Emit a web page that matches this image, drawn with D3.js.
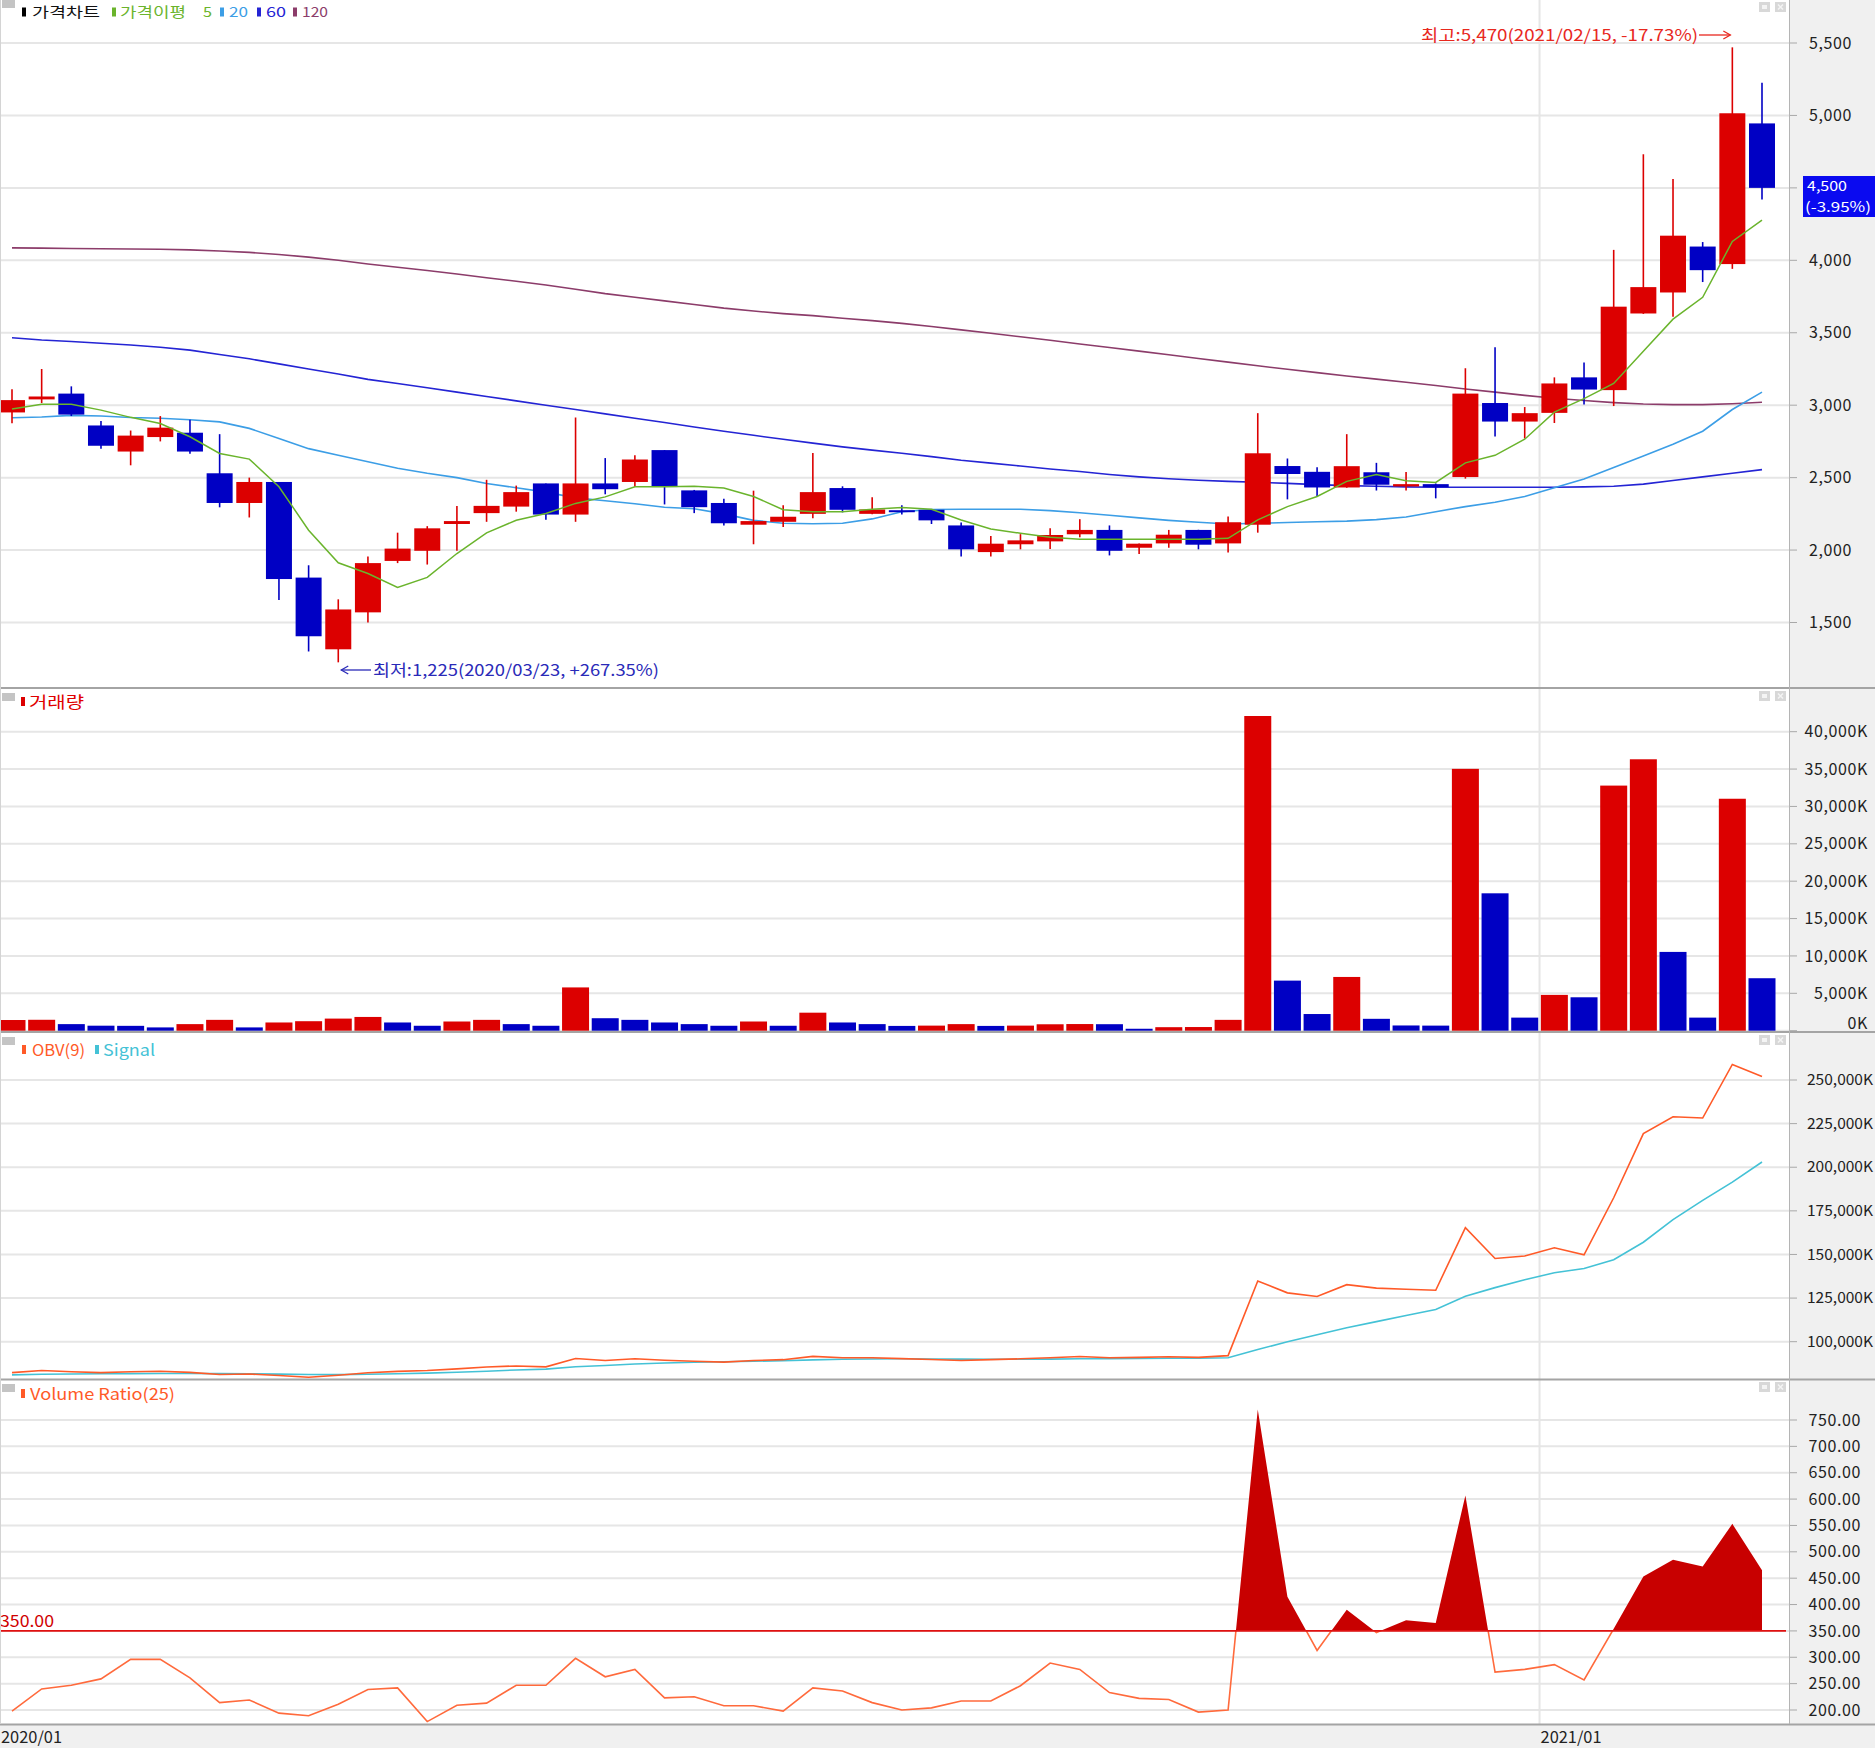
<!DOCTYPE html>
<html><head><meta charset="utf-8">
<script src="https://cdn.jsdelivr.net/npm/d3@7/dist/d3.min.js"></script>
<style>
body{margin:0;background:#fff}
text{font-family:"Noto Sans CJK KR","Noto Sans",sans-serif}
</style>
</head><body>
<svg id="c" width="1875" height="1748"></svg>
<script>
// ---------- DATA ----------
const weeks = ["2020/01/06","2020/01/13","2020/01/20","2020/01/27","2020/02/03","2020/02/10","2020/02/17","2020/02/24",
"2020/03/02","2020/03/09","2020/03/16","2020/03/23","2020/03/30","2020/04/06","2020/04/13","2020/04/20","2020/04/27",
"2020/05/04","2020/05/11","2020/05/18","2020/05/25","2020/06/01","2020/06/08","2020/06/15","2020/06/22","2020/06/29",
"2020/07/06","2020/07/13","2020/07/20","2020/07/27","2020/08/03","2020/08/10","2020/08/17","2020/08/24","2020/08/31",
"2020/09/07","2020/09/14","2020/09/21","2020/09/28","2020/10/05","2020/10/12","2020/10/19","2020/10/26","2020/11/02",
"2020/11/09","2020/11/16","2020/11/23","2020/11/30","2020/12/07","2020/12/14","2020/12/21","2020/12/28","2021/01/04",
"2021/01/11","2021/01/18","2021/01/25","2021/02/01","2021/02/08","2021/02/15","2021/02/22"];

const openP  = [2950,3040,3080,2860,2680,2780,2810,2530,2325,2470,1810,1315,1570,1925,1995,2180,2255,2300,2460,2245,
2460,2470,2690,2412,2325,2175,2195,2250,2428,2250,2275,2278,2170,1986,2040,2060,2109,2139,2016,2046,
2139,2046,2175,2580,2540,2432,2537,2439,2455,2504,3015,2887,2947,3192,3104,3633,3778,4095,3974,4945];
const highP  = [3110,3250,3130,2890,2825,2925,2900,2800,2500,2470,1895,1660,1955,2120,2165,2305,2485,2445,2460,2915,
2635,2655,2690,2415,2355,2410,2310,2670,2440,2365,2310,2280,2190,2097,2110,2150,2213,2170,2046,2139,
2140,2231,2945,2632,2572,2800,2602,2539,2460,3255,3400,2987,3192,3295,4072,4732,4562,4126,5470,5225];
const lowP   = [2875,3015,2925,2700,2585,2750,2665,2295,2225,1655,1300,1225,1500,1910,1900,1995,2195,2265,2210,2195,
2385,2435,2315,2255,2170,2040,2160,2220,2260,2248,2245,2180,1955,1955,2005,2007,2088,1963,1972,2016,
2005,1984,2120,2350,2374,2430,2411,2411,2357,2493,2784,2770,2877,3004,2994,3630,3610,3850,3941,4420];
const closeP = [3035,3060,2935,2720,2790,2845,2680,2325,2470,1800,1405,1590,1910,2010,2150,2200,2305,2400,2245,2460,
2420,2625,2435,2296,2185,2200,2230,2400,2278,2280,2265,2205,2005,2044,2067,2104,2139,1995,2044,2106,
2037,2192,2668,2525,2432,2579,2451,2455,2434,3080,2887,2945,3150,3108,3680,3815,4170,3932,5015,4500];

const ma5   = [2973,3006,3006,2966,2916,2874,2782,2667,2628,2437,2137,1912,1838,1742,1811,1976,2119,2206,2252,2322,
2367,2437,2437,2441,2428,2370,2278,2264,2264,2282,2294,2282,2208,2146,2116,2088,2074,2074,2074,2074,
2074,2081,2208,2300,2370,2474,2521,2479,2467,2602,2654,2765,2952,3045,3150,3372,3594,3745,4130,4277];
const ma20  = [2913,2918,2930,2925,2915,2910,2900,2885,2840,2770,2700,2655,2610,2565,2530,2500,2460,2430,2400,2360,
2340,2320,2295,2285,2250,2205,2185,2182,2185,2215,2265,2280,2282,2282,2282,2272,2258,2240,2222,2205,
2192,2180,2185,2190,2195,2200,2210,2228,2265,2300,2330,2370,2430,2490,2570,2650,2730,2820,2970,3090];
const ma60  = [3465,3450,3440,3428,3415,3400,3380,3350,3320,3285,3250,3215,3178,3150,3120,3090,3060,3030,3000,2970,
2940,2910,2880,2850,2820,2792,2765,2738,2712,2690,2668,2645,2620,2600,2580,2560,2542,2522,2505,2492,
2482,2474,2468,2460,2452,2445,2440,2436,2434,2434,2434,2434,2434,2436,2440,2455,2480,2505,2530,2555];
const ma120 = [4086,4084,4082,4080,4078,4076,4072,4064,4055,4040,4022,4000,3975,3952,3930,3905,3880,3855,3830,3800,
3770,3745,3720,3695,3670,3650,3632,3618,3600,3584,3565,3543,3520,3497,3472,3448,3422,3398,3373,3348,
3322,3297,3272,3248,3225,3202,3180,3158,3136,3112,3090,3068,3048,3032,3018,3008,3004,3004,3010,3020];

const volumeK = [1430,1460,880,670,650,440,880,1450,440,1100,1270,1620,1840,1100,660,1230,1450,880,660,5790,
1670,1450,1100,880,660,1230,660,2410,1100,880,640,680,880,640,680,860,890,870,260,470,
490,1450,42100,6700,2230,7190,1590,700,680,35030,18380,1750,4790,4470,32790,36310,10540,1750,31030,7020];

const obvK = [82300,83500,82800,82300,82800,83100,82400,81200,81500,80600,79600,80800,82200,83000,83500,84400,85500,86100,85600,90400,
89200,90200,89400,88800,88300,89200,89700,91600,90800,90800,90300,89800,89200,89700,90200,90800,91500,90800,91000,91400,
91000,92000,134800,128000,125900,132700,130700,130100,129500,165400,147700,149100,153800,149800,182500,219300,228900,228200,258900,252000];
const obvSignalK = [81000,81300,81500,81600,81700,81800,81800,81700,81600,81400,81200,81100,81300,81600,82000,82500,83100,83800,84300,85600,
86400,87200,87800,88200,88500,88800,89100,89600,89900,90100,90200,90100,90000,89900,89900,90000,90200,90300,90400,90500,
90600,90800,95500,100000,104000,108000,111500,115000,118500,126000,131000,135500,139500,142000,147000,157000,170000,181000,191500,203000];

const volRatio = [198,240,247,259,296,296,261,214,219,194,189,211,239,242,178,209,213,247,247,298,
263,277,223,225,208,208,198,242,236,214,200,204,217,217,246,289,277,233,222,220,
196,200,770,415,313,390,347,370,365,607,272,277,286,257,354,453,485,472,553,465];

const priceTicks = [1500,2000,2500,3000,3500,4000,4500,5000,5500];
const volTicks   = [0,5000,10000,15000,20000,25000,30000,35000,40000];
const obvTicks   = [100000,125000,150000,175000,200000,225000,250000];
const vrTicks    = [200,250,300,350,400,450,500,550,600,650,700,750];
const vrLevel    = 350;
const dateTicks  = [{week:"2020/01/06", label:"2020/01"},{week:"2021/01/04", label:"2021/01"}];
const maxInfo = {price:5470, date:"2021/02/15", pct:"-17.73%"};
const minInfo = {price:1225, date:"2020/03/23", pct:"+267.35%"};
const lastInfo = {price:4500, pct:"-3.95%"};

// ---------- LAYOUT ----------
const W = 1875, H = 1748, plotR = 1789;
const P = [
  {top:0,    bottom:688},
  {top:689,  bottom:1032},
  {top:1033, bottom:1379},
  {top:1380, bottom:1724}
];
const RED = "#dc0000", BLUE = "#0000c4";
const C5 = "#6ab42c", C20 = "#3c9ee6", C60 = "#2424d4", C120 = "#8c3c6a";
const COBV = "#ff5a28", CSIG = "#44c2d6", CVR = "#ff6a3c";

const svg = d3.select("#c");
const fmt = d3.format(",");

const x = d3.scalePoint().domain(weeks).range([12, 1762]);
const step = x.step();
const yP = d3.scaleLinear().domain([1500, 5500]).range([622.5, 43]);
const yV = d3.scaleLinear().domain([0, 40000]).range([1030.7, 731.7]);
const yO = d3.scaleLinear().domain([100000, 250000]).range([1341.7, 1080]);
const yR = d3.scaleLinear().domain([200, 750]).range([1710, 1420]);

// backgrounds
svg.append("rect").attr("x",0).attr("y",0).attr("width",W).attr("height",H).attr("fill","#fff");
svg.append("rect").attr("x",1790).attr("y",0).attr("width",W-1790).attr("height",H).attr("fill","#f0f0f0");
svg.append("rect").attr("x",0).attr("y",1725).attr("width",W).attr("height",H-1725).attr("fill","#f0f0f0");

const defs = svg.append("defs");
P.forEach((p,i)=>{
  defs.append("clipPath").attr("id","clip"+i).append("rect")
    .attr("x",0).attr("y",p.top).attr("width",plotR).attr("height",p.bottom-p.top);
});

// grid + axis for each panel
function panelAxis(pi, scale, ticks, fmtFn, anchor, tx, fs, tl, hide){
  const p = P[pi];
  const g = svg.append("g");
  g.selectAll("line.grid").data(ticks).join("line")
    .attr("x1",0).attr("x2",plotR).attr("y1",d=>scale(d)).attr("y2",d=>scale(d))
    .attr("stroke","#e6e6e6").attr("stroke-width",2);
  g.selectAll("line.tk").data(ticks).join("line")
    .attr("x1",1790).attr("x2",1797).attr("y1",d=>scale(d)).attr("y2",d=>scale(d))
    .attr("stroke","#a8a8a8").attr("stroke-width",1);
  const t = g.selectAll("text").data(ticks.filter(d=>d!==hide)).join("text")
    .attr("x",tx).attr("y",d=>{let y=scale(d); return Math.min(y, p.bottom-9);})
    .attr("dy","0.35em").attr("text-anchor",anchor)
    .attr("font-size",fs).attr("fill","#222")
    .text(fmtFn);
  if(tl) t.attr("textLength",tl).attr("lengthAdjust","spacingAndGlyphs");
  else t.attr("letter-spacing",0.6);
  // month divider
  dateTicks.slice(1).forEach(t=>{
    const xx = x(t.week) - step/2;
    g.append("line").attr("x1",xx).attr("x2",xx).attr("y1",p.top).attr("y2",p.bottom)
      .attr("stroke","#e6e6e6").attr("stroke-width",2);
  });
}
// the 4,500 tick label sits under the current-price box, as in the reference
panelAxis(0, yP, priceTicks, d=>fmt(d), "end", 1852, 16, null, lastInfo.price);
panelAxis(1, yV, volTicks, d=>fmt(d)+"K", "end", 1868, 16);
panelAxis(2, yO, obvTicks, d=>fmt(d)+"K", "start", 1807, 15, 66);
panelAxis(3, yR, vrTicks, d=>d3.format(".2f")(d), "end", 1861, 16);

// ---------- PRICE PANEL ----------
const gP = svg.append("g").attr("clip-path","url(#clip0)");
const lineP = arr => d3.line().x((d,i)=>x(weeks[i])).y(d=>yP(d))(arr);
[[ma120,C120],[ma60,C60],[ma20,C20]].forEach(([a,c])=>{
  gP.append("path").attr("d",lineP(a)).attr("fill","none").attr("stroke",c).attr("stroke-width",1.6);
});
const bw = 26;
weeks.forEach((w,i)=>{
  const up = closeP[i] >= openP[i];
  const col = up ? RED : BLUE;
  const cx = x(w);
  gP.append("line").attr("x1",cx).attr("x2",cx).attr("y1",yP(highP[i])).attr("y2",yP(lowP[i]))
    .attr("stroke",col).attr("stroke-width",1.6);
  const y1 = yP(Math.max(openP[i],closeP[i])), y2 = yP(Math.min(openP[i],closeP[i]));
  gP.append("rect").attr("x",cx-bw/2).attr("y",y1).attr("width",bw).attr("height",Math.max(2,y2-y1))
    .attr("fill",col);
});
gP.append("path").attr("d",lineP(ma5)).attr("fill","none").attr("stroke",C5).attr("stroke-width",1.5);

// max annotation
const iMax = weeks.indexOf(maxInfo.date);
svg.append("text").attr("x",1421).attr("y",41).attr("font-size",16).attr("fill","#e8281e")
  .attr("textLength",277).attr("lengthAdjust","spacingAndGlyphs")
  .text(`최고:${fmt(maxInfo.price)}(${maxInfo.date}, ${maxInfo.pct})`);
const axEnd = x(weeks[iMax]) - 2;
svg.append("line").attr("x1",1699).attr("x2",axEnd).attr("y1",35).attr("y2",35).attr("stroke","#e8281e").attr("stroke-width",1.3);
svg.append("path").attr("d",`M${axEnd-7},31 L${axEnd},35 L${axEnd-7},39`).attr("fill","none").attr("stroke","#e8281e").attr("stroke-width",1.3);

// min annotation
const iMin = weeks.indexOf(minInfo.date);
const axStart = x(weeks[iMin]) + 3;
svg.append("line").attr("x1",axStart).attr("x2",371).attr("y1",670).attr("y2",670).attr("stroke","#2a2ab8").attr("stroke-width",1.3);
svg.append("path").attr("d",`M${axStart+7},666 L${axStart},670 L${axStart+7},674`).attr("fill","none").attr("stroke","#2a2ab8").attr("stroke-width",1.3);
svg.append("text").attr("x",373).attr("y",676).attr("font-size",16).attr("fill","#2a2ab8")
  .attr("textLength",286).attr("lengthAdjust","spacingAndGlyphs")
  .text(`최저:${fmt(minInfo.price)}(${minInfo.date}, ${minInfo.pct})`);

// current price box
svg.append("rect").attr("x",1803).attr("y",176).attr("width",W-1803).attr("height",41).attr("fill","#0a0af0");
svg.append("text").attr("x",1807).attr("y",186.5).attr("dy","0.35em").attr("font-size",14)
  .attr("textLength",40).attr("lengthAdjust","spacingAndGlyphs")
  .attr("fill","#fff").text(fmt(lastInfo.price));
svg.append("text").attr("x",1805).attr("y",207).attr("dy","0.35em").attr("font-size",14)
  .attr("textLength",66).attr("lengthAdjust","spacingAndGlyphs")
  .attr("fill","#fff").text(`(${lastInfo.pct})`);

// ---------- VOLUME PANEL ----------
const gV = svg.append("g").attr("clip-path","url(#clip1)");
weeks.forEach((w,i)=>{
  const up = i===0 || volumeK[i] >= volumeK[i-1];
  gV.append("rect").attr("x",x(w)-13.5).attr("y",yV(volumeK[i])).attr("width",27)
    .attr("height",yV(0)-yV(volumeK[i])).attr("fill",up?RED:BLUE);
});

// ---------- OBV PANEL ----------
const gO = svg.append("g").attr("clip-path","url(#clip2)");
const lineO = d3.line().x((d,i)=>x(weeks[i])).y(d=>yO(d));
gO.append("path").attr("d",lineO(obvSignalK)).attr("fill","none").attr("stroke",CSIG).attr("stroke-width",1.6);
gO.append("path").attr("d",lineO(obvK)).attr("fill","none").attr("stroke",COBV).attr("stroke-width",1.6);

// ---------- VOLUME RATIO PANEL ----------
const yLvl = yR(vrLevel);
defs.append("clipPath").attr("id","vrAbove").append("rect").attr("x",0).attr("y",P[3].top).attr("width",plotR).attr("height",yLvl-P[3].top);
defs.append("clipPath").attr("id","vrBelow").append("rect").attr("x",0).attr("y",yLvl).attr("width",plotR).attr("height",P[3].bottom-yLvl);
const areaR = d3.area().x((d,i)=>x(weeks[i])).y0(yLvl).y1(d=>yR(d));
const lineR = d3.line().x((d,i)=>x(weeks[i])).y(d=>yR(d));
svg.append("path").attr("clip-path","url(#vrAbove)").attr("d",areaR(volRatio)).attr("fill","#c80000");
svg.append("path").attr("clip-path","url(#vrBelow)").attr("d",lineR(volRatio)).attr("fill","none").attr("stroke",CVR).attr("stroke-width",1.6);
svg.append("line").attr("x1",0).attr("x2",1786).attr("y1",yLvl).attr("y2",yLvl).attr("stroke","#e01010").attr("stroke-width",1.6);
svg.append("text").attr("x",0).attr("y",1621).attr("dy","0.35em").attr("font-size",16).attr("fill","#d00000")
  .attr("textLength",54).attr("lengthAdjust","spacingAndGlyphs").text(d3.format(".2f")(vrLevel));

// ---------- FRAME ----------
[688, 1032, 1379.5, 1724.5].forEach(y=>{
  svg.append("line").attr("x1",0).attr("x2",W).attr("y1",y).attr("y2",y).attr("stroke","#a4a4a4").attr("stroke-width",2);
});
svg.append("line").attr("x1",plotR+0.5).attr("x2",plotR+0.5).attr("y1",0).attr("y2",1724).attr("stroke","#b4b4b4").attr("stroke-width",1);
svg.append("line").attr("x1",0.5).attr("x2",0.5).attr("y1",0).attr("y2",1724).attr("stroke","#d4d4d4").attr("stroke-width",1);

// panel corner squares and buttons
P.forEach(p=>{
  svg.append("rect").attr("x",2).attr("y",p.top+(p.top?4:0)).attr("width",13).attr("height",8).attr("fill","#c4c4c4");
  [1759,1775].forEach((bx,k)=>{
    svg.append("rect").attr("x",bx).attr("y",p.top+2).attr("width",11).attr("height",10).attr("fill","#d8d8d8");
    if(k===0) svg.append("rect").attr("x",bx+3).attr("y",p.top+5).attr("width",5).attr("height",4).attr("fill","#f4f4f4");
    else {
      svg.append("path").attr("d",`M${bx+3},${p.top+4.5} L${bx+8},${p.top+9.5} M${bx+8},${p.top+4.5} L${bx+3},${p.top+9.5}`)
        .attr("stroke","#f4f4f4").attr("stroke-width",1.5);
    }
  });
});

// legends
function legend(items, y, fs){
  items.forEach(it=>{
    if(it.mark) svg.append("rect").attr("x",it.mx).attr("y",y-5).attr("width",4).attr("height",9).attr("fill",it.mark);
    svg.append("text").attr("x",it.tx).attr("y",y).attr("dy","0.35em").attr("font-size",fs||16).attr("fill",it.color)
      .attr("textLength",it.w).attr("lengthAdjust","spacingAndGlyphs").text(it.t);
  });
}
legend([
  {mark:"#000", mx:22, tx:32, w:68, t:"가격차트", color:"#111"},
  {mark:C5, mx:112, tx:120, w:66, t:"가격이평", color:C5},
  {tx:203, w:9, t:"5", color:C5},
  {mark:C20, mx:220, tx:229, w:19, t:"20", color:C20},
  {mark:C60, mx:257, tx:266, w:20, t:"60", color:C60},
  {mark:C120, mx:293, tx:302, w:26, t:"120", color:C120}
], 12.5, 14);
legend([{mark:RED, mx:21, tx:29, w:55, t:"거래량", color:"#e00000"}], 702);
legend([
  {mark:COBV, mx:22, tx:32, w:53, t:"OBV(9)", color:COBV},
  {mark:CSIG, mx:95, tx:103, w:52, t:"Signal", color:CSIG}
], 1050);
legend([{mark:COBV, mx:21, tx:30, w:145, t:"Volume Ratio(25)", color:COBV}], 1394);

// date axis
dateTicks.forEach(t=>{
  const xx = Math.max(1, x(t.week) - step/2 + 1);
  svg.append("text").attr("x",xx).attr("y",1737).attr("dy","0.35em").attr("font-size",16).attr("fill","#222")
    .attr("textLength",61).attr("lengthAdjust","spacingAndGlyphs").text(t.label);
});
</script>
</body></html>
